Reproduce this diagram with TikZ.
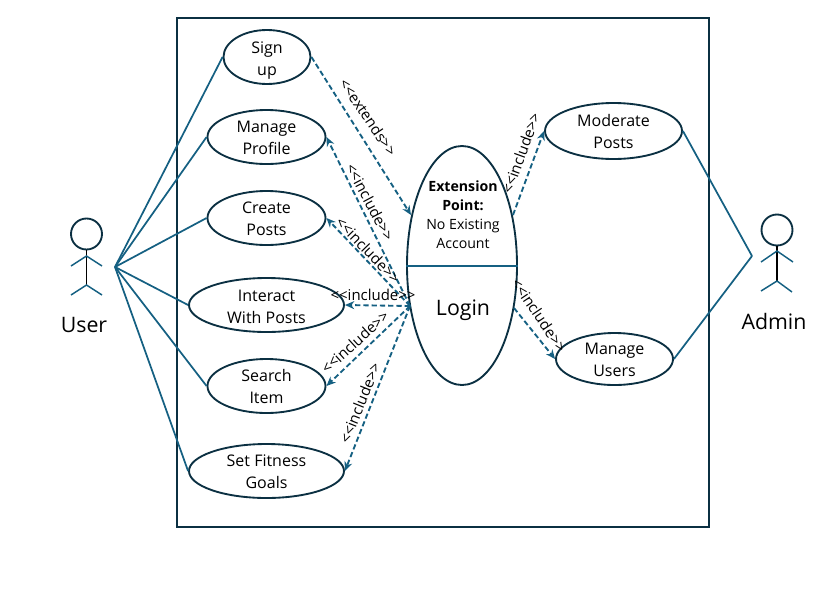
\documentclass[tikz,border=0pt]{standalone}
\usepackage{fontspec}
\setmainfont{Open Sans}
\usetikzlibrary{shapes.geometric,arrows.meta,positioning,calc}
\definecolor{lineColor}{HTML}{156082}
\definecolor{edgeColor}{HTML}{0B3042}
\newcommand{\lift}[1]{\rule{0pt}{#1pt}}
\tikzstyle{usecase} = [ellipse, inner xsep=0pt, inner ysep=-8pt, minimum height=54*0.75pt, align=center, draw=edgeColor, line width=1.4pt, font=\fontsize{12}{16.5}\selectfont]
\tikzstyle{assoc} = [draw=lineColor, line width=1.3pt]
\tikzstyle{dep} = [draw=lineColor, line width=1.4pt, dash pattern=on 4pt off 2.2pt, -{Stealth[length=7pt,width=6pt]}]
\tikzstyle{deplabel} = [inner sep=0pt, font=\fontsize{11.2}{13}\selectfont]
\tikzstyle{limb} = [draw=lineColor, line width=1.1pt]
\tikzstyle{torso} = [draw=black, line width=1.1pt]
\tikzstyle{actorname} = [inner sep=0pt, font=\fontsize{16}{19}\selectfont]
\begin{document}
\begin{tikzpicture}[x=0.75pt,y=-0.75pt]
	\useasboundingbox (0,0) rectangle (838,593);
	\node (system) [draw=edgeColor, line width=1.4pt, minimum width=532*0.75pt, minimum height=509*0.75pt, inner sep=0pt] at (443,272.5) {};

	% use cases
	\node (signup) [usecase, minimum width=87*0.75pt] at (267,57) {\lift{14.6}Sign\\up};
	\node (profile) [usecase, minimum width=118*0.75pt] at (266.5,137) {\lift{10.1}Manage\\Profile};
	\node (create) [usecase, minimum width=118*0.75pt] at (266.5,218) {\lift{10.1}Create\\Posts};
	\node (interact) [usecase, minimum width=155*0.75pt] at (266.5,305) {\lift{11.6}Interact\\With Posts};
	\node (search) [usecase, minimum width=118*0.75pt] at (266.5,386) {Search\\Item};
	\node (goals) [usecase, minimum width=155*0.75pt] at (266.5,471) {\lift{10.1}Set Fitness\\Goals};
	\node (moderate) [usecase, minimum width=137*0.75pt, minimum height=56*0.75pt] at (613.5,131) {Moderate\\Posts};
	\node (users) [usecase, minimum width=117*0.75pt, minimum height=52*0.75pt] at (614.5,359) {\lift{10.1}Manage\\Users};

	% login
	\node (login) [ellipse, inner sep=0pt, draw=edgeColor, line width=1.4pt, minimum width=110*0.75pt, minimum height=239*0.75pt] at (462,265.5) {};
	\draw [draw=lineColor, line width=1.5pt] (login.west) -- (login.east);
	\node (extension) [inner sep=0pt, align=center, font=\fontsize{10.6}{14.2}\selectfont] at (463,215) {\textbf{Extension}\\\textbf{Point:}\\No Existing\\Account};
	\node (logintext) [inner sep=0pt, font=\fontsize{16}{19}\selectfont] at (463,310) {Login};

	% connector ends
	\coordinate (userhub) at (115,267);
	\coordinate (adminhub) at (752,256);
	\coordinate (loginhub) at (410,306);
	\coordinate (loginext) at (411,215);
	\coordinate (loginmod) at (513,215);
	\coordinate (loginuser) at (514,308);

	% associations
	\foreach \target in {signup,profile,create,interact,search,goals}
		\draw [assoc] (userhub) -- (\target.west);
	\draw [assoc] (adminhub) -- (moderate.east);
	\draw [assoc] (adminhub) -- (users.east);

	% dependencies
	\draw [dep] (signup.east) -- (loginext);
	\foreach \target in {profile,create,interact,search,goals}
		\draw [dep] (loginhub) -- (\target.east);
	\draw [dep] (loginmod) -- (moderate.west);
	\draw [dep] (loginuser) -- (users.west);

	\node (extendslabel) [deplabel, rotate=-56] at (368,117) {{<}{<}extends{>}{>}};
	\node (profilelabel) [deplabel, rotate=-62] at (370,202) {{<}{<}include{>}{>}};
	\node (createlabel) [deplabel, rotate=-46] at (368,250) {{<}{<}include{>}{>}};
	\node (interactlabel) [deplabel] at (373,295) {{<}{<}include{>}{>}};
	\node (searchlabel) [deplabel, rotate=42] at (355,342) {{<}{<}include{>}{>}};
	\node (goalslabel) [deplabel, rotate=68] at (360,403) {{<}{<}include{>}{>}};
	\node (moderatelabel) [deplabel, rotate=70] at (521,153) {{<}{<}include{>}{>}};
	\node (userslabel) [deplabel, rotate=-56] at (539,315) {{<}{<}include{>}{>}};

	% actors
	\node (userhead) [circle, draw=edgeColor, line width=1.4pt, minimum size=31*0.75pt, inner sep=0pt] at (86.5,234) {};
	\coordinate (userhip) at (86.5,285);
	\coordinate (usershoulder) at (86.5,256);
	\draw [torso] (userhead) -- (userhip);
	\draw [limb] (71,266) -- (usershoulder) -- (102,266);
	\draw [limb] (71,295) -- (userhip) -- (102,295);
	\node (username) [actorname] at (84,325) {User};

	\node (adminhead) [circle, draw=edgeColor, line width=1.4pt, minimum size=31*0.75pt, inner sep=0pt] at (777,230) {};
	\coordinate (adminhip) at (777,281);
	\coordinate (adminshoulder) at (777,251);
	\draw [torso] (adminhead) -- (adminhip);
	\draw [limb] (761,262) -- (adminshoulder) -- (793,262);
	\draw [limb] (761,291) -- (adminhip) -- (792,292);
	\node (adminname) [actorname] at (774,321) {Admin};
\end{tikzpicture}
\end{document}
